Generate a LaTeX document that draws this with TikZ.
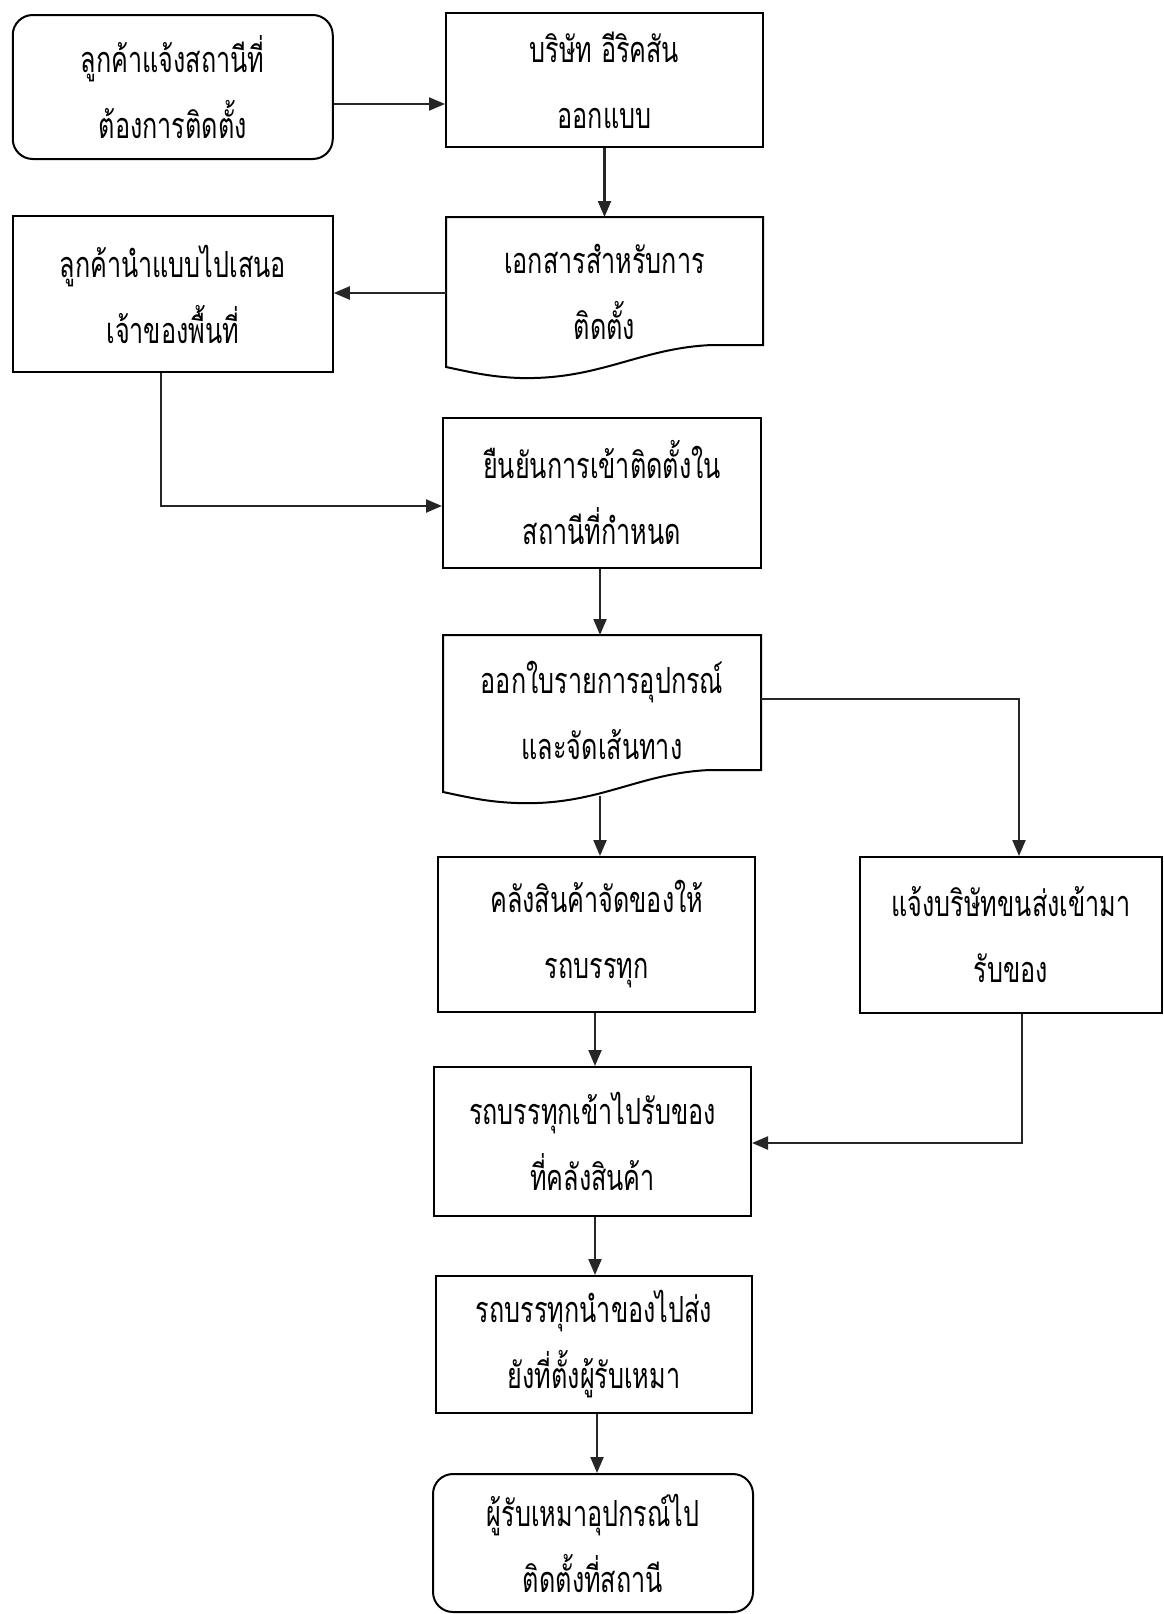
\documentclass[tikz,border=0pt]{standalone}
\usepackage{fontspec}
\usetikzlibrary{arrows.meta,calc}
\newfontfamily\thaifont[Script=Thai,FakeStretch=0.7]{Loma}
\tikzset{
  boxstyle/.style={draw=black, line width=2pt, rectangle, inner sep=0pt, align=center,
     font=\thaifont\fontsize{36}{66}\selectfont},
  roundbox/.style={boxstyle, rounded corners=20pt},
  docbox/.style={boxstyle, draw=none},
  docline/.style={draw=black, line width=2pt},
  conn/.style={line width=2.2pt, draw=black!85},
  arr/.style={conn, -{Triangle[length=16pt,width=13pt]}}
}
\begin{document}
\begin{tikzpicture}[x=1pt,y=-1pt]
\useasboundingbox (0,0) rectangle (1163,1614);
% nodes
\node[roundbox, minimum width=320pt, minimum height=144pt] (A) at (172.75,87) {ลูกค้าแจ้งสถานีที่\\ต้องการติดตั้ง};
\node[boxstyle, minimum width=317pt, minimum height=134pt] (B) at (604.5,80) {บริษัท อีริคสัน\\ออกแบบ};
\node[docbox, minimum width=317pt, minimum height=150pt] (C) at (604.5,292) {เอกสารสำหรับการ\\ติดตั้ง};
\node[boxstyle, minimum width=320pt, minimum height=156pt] (D) at (172.75,294) {ลูกค้านำแบบไปเสนอ\\เจ้าของพื้นที่};
\node[boxstyle, minimum width=318pt, minimum height=150pt] (E) at (602,493) {ยืนยันการเข้าติดตั้งใน\\สถานีที่กำหนด};
\node[docbox, minimum width=318pt, minimum height=156pt] (F) at (602,710) {ออกใบรายการอุปกรณ์\\และจัดเส้นทาง};
\node[boxstyle, minimum width=317pt, minimum height=155pt] (G) at (596.75,934.5) {คลังสินค้าจัดของให้\\รถบรรทุก};
\node[boxstyle, minimum width=302pt, minimum height=156pt] (H) at (1011,935) {แจ้งบริษัทขนส่งเข้ามา\\รับของ};
\node[boxstyle, minimum width=317pt, minimum height=149pt] (I) at (592.5,1141.5) {รถบรรทุกเข้าไปรับของ\\ที่คลังสินค้า};
\node[boxstyle, minimum width=316pt, minimum height=137pt] (J) at (594,1344.5) {รถบรรทุกนำของไปส่ง\\ยังที่ตั้งผู้รับเหมา};
\node[roundbox, minimum width=320pt, minimum height=138pt] (K) at (593,1543) {ผู้รับเหมาอุปกรณ์ไป\\ติดตั้งที่สถานี};
% document shapes
\draw[docline] (446,217) -- (763,217) -- (763,345) -- (712,345)
   .. controls (640,348) and (600,380) .. (520,378)
   .. controls (490,377) and (470,372) .. (446,367) -- cycle;
\draw[docline] (443,635) -- (761,635) -- (761,770) -- (710,770)
   .. controls (638,773) and (598,806) .. (517,803)
   .. controls (487,802) and (467,797) .. (443,792) -- cycle;
% connectors
\draw[arr] (A.east |- 0,104) -- (B.west |- 0,104);
\draw[arr] (B.south) -- (604.5,217);
\draw[arr] (446,293) -- (D.east |- 0,293);
\draw[arr] (D.south -| 161,0) -- (161,506) -- (E.west |- 0,506);
\draw[arr] (E.south -| 600,0) -- (600,635);
\coordinate (Fr) at (761,699);
\draw[arr] (Fr) -- (1019,699) -- (H.north -| 1019,0);
\coordinate (Fb) at (600,796);
\draw[arr] (Fb) -- (G.north -| 600,0);
\draw[arr] (G.south -| 595,0) -- (I.north -| 595,0);
\draw[arr] (H.south -| 1022,0) -- (1022,1143) -- (I.east |- 0,1143);
\draw[arr] (I.south -| 595,0) -- (J.north -| 595,0);
\draw[arr] (J.south -| 597,0) -- (K.north -| 597,0);
\end{tikzpicture}
\end{document}
